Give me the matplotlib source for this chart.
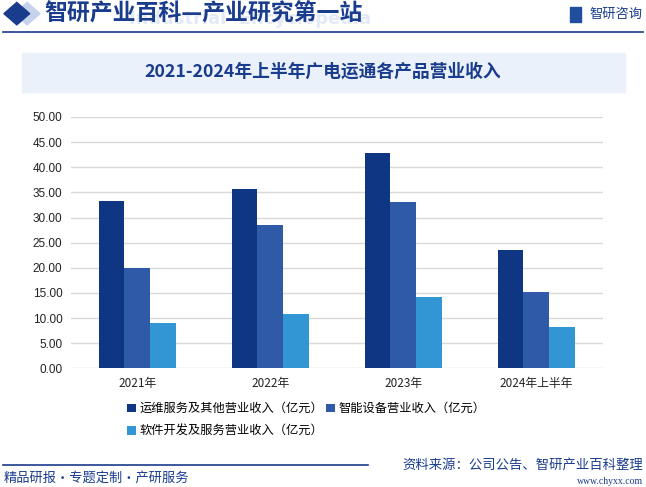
import matplotlib
matplotlib.use('Agg')
import matplotlib.pyplot as plt
from matplotlib.patches import Rectangle, Polygon
import numpy as np

plt.rcParams['font.family'] = ['Noto Sans CJK SC', 'DejaVu Sans']

# data
categories = ['2021年', '2022年', '2023年', '2024年上半年']
series_names = ['运维服务及其他营业收入（亿元）', '智能设备营业收入（亿元）', '软件开发及服务营业收入（亿元）']
ops_other = [33.3, 35.6, 42.8, 23.5]
smart_devices = [19.9, 28.5, 33.1, 15.2]
software = [9.0, 10.8, 14.2, 8.2]
yticks = np.arange(0, 50.01, 5)

colors = ['#0e3682', '#2f5aa7', '#3196d3']
navy = '#1a3c8c'

fig = plt.figure(figsize=(6.46, 4.87), dpi=100)

# header
fig.text(0.20, 0.962, 'Industrial  Encyclopedia', fontsize=13, color='#e3eaf6',
         va='center', ha='left', family='DejaVu Sans', fontweight='bold', zorder=0)
fig.text(0.068, 0.972, '智研产业百科—产业研究第一站', fontsize=16.5, color=navy,
         fontweight='bold', va='center', ha='left', zorder=2)
fig.add_artist(Polygon([[0.022, 0.972], [0.042, 0.995], [0.062, 0.972], [0.042, 0.949]],
                       closed=True, color='#c5d3ec', transform=fig.transFigure))
fig.add_artist(Polygon([[0.006, 0.972], [0.026, 0.995], [0.046, 0.972], [0.026, 0.949]],
                       closed=True, color=navy, transform=fig.transFigure))
fig.add_artist(plt.Line2D([0.005, 0.995], [0.934, 0.934], color=navy, lw=1.2))
fig.add_artist(Rectangle((0.882, 0.955), 0.018, 0.03, color='#1f4e9c', transform=fig.transFigure))
fig.text(0.995, 0.970, '智研咨询', fontsize=9.5, color=navy, ha='right', va='center')

# title box
fig.add_artist(Rectangle((0.034, 0.812), 0.933, 0.08, color='#eaf1fb',
                         transform=fig.transFigure, zorder=0))
fig.text(0.5, 0.852, '2021-2024年上半年广电运通各产品营业收入', fontsize=12.8,
         color=navy, fontweight='bold', ha='center', va='center')

ax = fig.add_axes([0.1095, 0.2437, 0.8235, 0.5161])
x = np.arange(len(categories))
w = 0.193
handles = []
for i, (vals, name) in enumerate(zip([ops_other, smart_devices, software], series_names)):
    handles.append(ax.bar(x + (i - 1) * w, vals, w, color=colors[i], label=name, zorder=3))

ax.set_ylim(0, 50)
ax.set_xlim(-0.5, len(categories) - 0.5)
ax.set_yticks(yticks)
ax.set_yticklabels([f'{v:.2f}' for v in yticks], family='Liberation Sans', fontsize=8.5)
ax.set_xticks(x)
ax.set_xticklabels(categories, fontsize=8.5)
ax.tick_params(length=0, pad=6, colors='#222222')
ax.grid(axis='y', color='#d9d9d9', lw=1, zorder=0)
for s in ax.spines.values():
    s.set_visible(False)

# legend filled row by row: reorder for column-major layout
order = [0, 2, 1]
ax.legend([handles[k] for k in order], [series_names[k] for k in order],
          loc='upper left', bbox_to_anchor=(0.097, -0.115), ncol=2, frameon=False,
          fontsize=8.8, handlelength=0.7, handleheight=0.7, handletextpad=0.3,
          columnspacing=0.25, labelspacing=0.8, borderaxespad=0)

# footer
fig.add_artist(plt.Line2D([0.005, 0.57], [0.046, 0.046], color=navy, lw=1.2))
fig.text(0.006, 0.019, '精品研报・专题定制・产研服务', fontsize=9.5, color=navy, va='center')
fig.text(0.995, 0.046, '资料来源：公司公告、智研产业百科整理', fontsize=9.6, color=navy,
         ha='right', va='center')
fig.text(0.995, 0.012, 'www.chyxx.com', fontsize=7, color=navy, ha='right', va='center',
         family='Liberation Serif')

fig.savefig('out.png', dpi=100)
